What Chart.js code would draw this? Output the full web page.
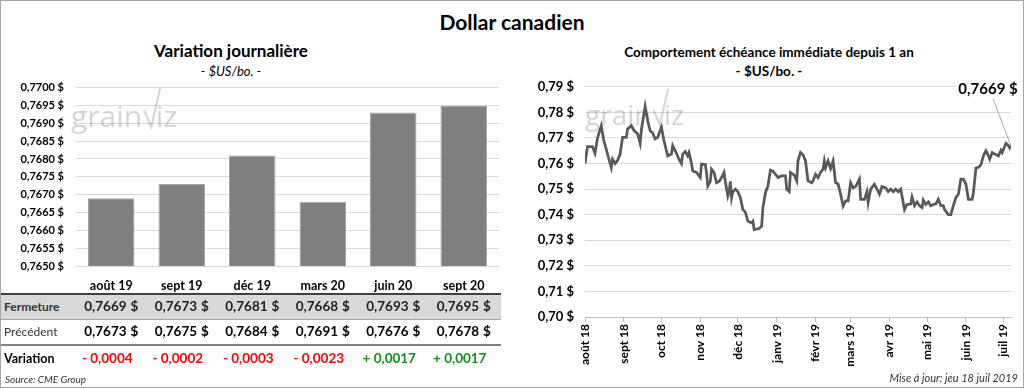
<!DOCTYPE html>
<html>
<head>
<meta charset="utf-8">
<script src="https://cdn.jsdelivr.net/npm/chart.js@4/dist/chart.umd.min.js"></script>
<style>
  body { margin: 0; background: #fff; font-family: Lato, "Open Sans", sans-serif; }
  #page { position: relative; width: 1022px; height: 386px; border: 1px solid #a6a6a6; overflow: hidden; }
  .t { position: absolute; white-space: nowrap; color: #000; }
  #left { position: absolute; left: 0; top: 68px; width: 512px; height: 232px; }
  #right { position: absolute; left: 512px; top: 67px; width: 512px; height: 313px; }
</style>
</head>
<body>
<div id="page">
  <div class="t" style="left:0;width:1022px;top:8px;text-align:center;font-size:21px;font-weight:bold;">Dollar canadien</div>
  <div class="t" style="left:0;width:460px;top:39px;text-align:center;font-size:17px;font-weight:bold;">Variation journalière</div>
  <div class="t" style="left:0;width:460px;top:62px;text-align:center;font-size:13px;font-style:italic;">- $US/bo. -</div>
  <div class="t" style="left:512px;width:512px;top:43px;text-align:center;font-size:13.5px;font-weight:bold;">Comportement échéance immédiate depuis 1 an</div>
  <div class="t" style="left:512px;width:512px;top:62px;text-align:center;font-size:13.5px;font-weight:bold;">- $US/bo. -</div>
  <div id="left"><canvas id="barChart"></canvas></div>
  <div id="right"><canvas id="lineChart"></canvas></div>
  <div id="table"></div>
  <div class="t" style="left:4px;top:372px;font-size:10px;font-style:italic;color:#333;">Source: CME Group</div>
  <div class="t" style="right:5px;top:370px;font-size:11px;font-style:italic;color:#333;">Mise à jour: jeu 18 juil 2019</div>
</div>
<script>
// tableau de gauche
const categories = ['août 19', 'sept 19', 'déc 19', 'mars 20', 'juin 20', 'sept 20'];
const fermeture = [0.7669, 0.7673, 0.7681, 0.7668, 0.7693, 0.7695];
const precedent = [0.7673, 0.7675, 0.7684, 0.7691, 0.7676, 0.7678];
const variation = [-0.0004, -0.0002, -0.0003, -0.0023, 0.0017, 0.0017];

// graphique de droite (jours depuis le 1er août 2018)
const lineDays = [0, 2, 6, 8, 10, 13, 15, 18, 21, 22, 24, 26, 28, 30, 33, 34, 37, 39, 42, 44, 45, 48, 50, 52, 54, 56, 58, 61, 63, 66, 69, 70, 73, 75, 77, 78, 80, 82, 83, 85, 86, 89, 92, 93, 96, 97, 98, 100, 101, 103, 105, 107, 109, 111, 112, 114, 115, 116, 117, 118, 120, 122, 124, 126, 128, 130, 133, 134, 135, 139, 141, 142, 144, 146, 148, 150, 153, 154, 157, 160, 161, 163, 164, 167, 169, 170, 172, 174, 176, 178, 181, 182, 184, 186, 188, 190, 191, 192, 194, 196, 198, 200, 202, 204, 206, 208, 210, 212, 214, 216, 219, 220, 223, 225, 226, 228, 231, 233, 235, 237, 240, 242, 244, 246, 248, 250, 252, 255, 257, 260, 261, 263, 265, 267, 269, 270, 272, 274, 276, 278, 280, 282, 284, 286, 287, 290, 292, 294, 296, 298, 300, 302, 304, 306, 309, 310, 312, 314, 316, 318, 320, 322, 323, 325, 327, 330, 332, 333, 336, 338, 339, 340];
const lineValues = [0.7600, 0.7666, 0.7666, 0.7640, 0.7700, 0.7748, 0.7690, 0.7637, 0.7584, 0.7617, 0.7600, 0.7612, 0.7637, 0.7702, 0.7702, 0.7735, 0.7748, 0.7730, 0.7716, 0.7679, 0.7732, 0.7823, 0.7768, 0.7728, 0.7720, 0.7696, 0.7702, 0.7742, 0.7690, 0.7630, 0.7637, 0.7670, 0.7640, 0.7617, 0.7600, 0.7637, 0.7647, 0.7630, 0.7643, 0.7600, 0.7571, 0.7565, 0.7545, 0.7598, 0.7596, 0.7565, 0.7512, 0.7530, 0.7578, 0.7565, 0.7525, 0.7530, 0.7545, 0.7565, 0.7530, 0.7473, 0.7490, 0.7530, 0.7467, 0.7490, 0.7500, 0.7490, 0.7467, 0.7420, 0.7410, 0.7374, 0.7368, 0.7374, 0.7342, 0.7346, 0.7355, 0.7427, 0.7486, 0.7512, 0.7574, 0.7570, 0.7552, 0.7545, 0.7552, 0.7552, 0.7499, 0.7490, 0.7565, 0.7555, 0.7532, 0.7611, 0.7643, 0.7634, 0.7610, 0.7532, 0.7525, 0.7532, 0.7558, 0.7545, 0.7565, 0.7578, 0.7610, 0.7584, 0.7610, 0.7580, 0.7610, 0.7525, 0.7520, 0.7480, 0.7434, 0.7454, 0.7454, 0.7525, 0.7505, 0.7510, 0.7539, 0.7460, 0.7460, 0.7490, 0.7447, 0.7500, 0.7519, 0.7500, 0.7480, 0.7510, 0.7505, 0.7490, 0.7500, 0.7490, 0.7500, 0.7490, 0.7500, 0.7420, 0.7440, 0.7442, 0.7469, 0.7435, 0.7450, 0.7435, 0.7428, 0.7457, 0.7440, 0.7450, 0.7435, 0.7440, 0.7442, 0.7460, 0.7435, 0.7435, 0.7420, 0.7400, 0.7400, 0.7435, 0.7467, 0.7480, 0.7539, 0.7539, 0.7520, 0.7460, 0.7460, 0.7486, 0.7582, 0.7585, 0.7595, 0.7630, 0.7650, 0.7630, 0.7617, 0.7643, 0.7637, 0.7630, 0.7652, 0.7643, 0.7679, 0.7670, 0.7661, 0.7669];
const monthDays = [0, 31, 61, 92, 122, 153, 184, 212, 243, 273, 304, 334];
const monthLabels = ['août 18', 'sept 18', 'oct 18', 'nov 18', 'déc 18', 'janv 19', 'févr 19', 'mars 19', 'avr 19', 'mai 19', 'juin 19', 'juil 19'];

Chart.defaults.font.family = 'Lato';
Chart.defaults.color = '#000';

const fmt = (v, d) => v.toFixed(d).replace('.', ',');

// petit logo en filigrane
function logoPlugin(x, y, size) {
    return {
        id: 'logo',
        beforeDatasetsDraw(chart) {
            const c = chart.ctx;
            c.save();
            c.fillStyle = 'rgba(0,0,0,0.17)';
            c.strokeStyle = 'rgba(0,0,0,0.17)';
            c.font = size + 'px "Open Sans"';
            c.textBaseline = 'alphabetic';
            c.fillText('grain', x, y);
            const w = c.measureText('grain').width;
            c.lineWidth = 2;
            c.beginPath();
            c.moveTo(x + w + 2, y - size * 0.55);
            c.lineTo(x + w + size * 0.3, y);
            c.lineTo(x + w + size * 0.6, y - size * 1.3);
            c.stroke();
            c.fillText('iz', x + w + size * 0.45, y);
            c.restore();
        }
    };
}

const barChart = new Chart(document.getElementById('barChart'), {
    type: 'bar',
    data: {
        labels: categories,
        datasets: [{
            data: fermeture,
            backgroundColor: '#808080',
            borderColor: '#a6a6a6',
            borderWidth: 1,
            barPercentage: 0.66,
            categoryPercentage: 1
        }]
    },
    options: {
        responsive: true,
        maintainAspectRatio: false,
        animation: false,
        layout: { padding: { top: 0, right: 14, left: 0, bottom: 0 } },
        plugins: { legend: { display: false }, tooltip: { enabled: false } },
        scales: {
            x: {
                grid: { display: false, drawTicks: false },
                border: { display: false },
                ticks: { font: { size: 12.5, weight: 'bold' }, padding: 12 },
                afterFit(s) { s.height = 35; }
            },
            y: {
                min: 0.765,
                max: 0.770,
                grid: { color: '#d9d9d9', drawTicks: false },
                border: { display: false },
                ticks: {
                    stepSize: 0.0005,
                    padding: 12,
                    font: { size: 11, weight: 'bold' },
                    callback: v => fmt(v, 4) + ' $'
                },
                afterFit(s) { s.width = 75; }
            }
        }
    },
    plugins: [logoPlugin(70, 58, 30)]
});

// tableau sous le graphique
(function buildTable() {
    const t = document.getElementById('table');
    const xs = categories.map((c, i) => barChart.scales.x.getPixelForValue(i));
    let html = '';
    html += '<div style="position:absolute;left:0;top:294px;width:500px;height:24px;background:#d9d9d9;"></div>';
    html += '<div style="position:absolute;left:0;top:292px;width:500px;height:2px;background:#404040;"></div>';
    html += '<div style="position:absolute;left:0;top:318px;width:500px;height:1px;background:#a6a6a6;"></div>';
    html += '<div style="position:absolute;left:0;top:343px;width:500px;height:2px;background:#808080;"></div>';
    html += '<div class="t" style="left:3px;top:298px;font-size:12px;font-weight:bold;color:#333;">Fermeture</div>';
    html += '<div class="t" style="left:3px;top:323px;font-size:12px;color:#333;">Précédent</div>';
    html += '<div class="t" style="left:3px;top:350px;font-size:12.5px;font-weight:bold;">Variation</div>';
    const rows = [
        { vals: fermeture, top: 297, color: '#222' },
        { vals: precedent, top: 322, color: '#000' }
    ];
    rows.forEach(r => {
        r.vals.forEach((v, i) => {
            html += '<div class="t" style="left:' + (xs[i] - 27) + 'px;top:' + r.top + 'px;width:54px;font-size:13.5px;font-weight:bold;color:' + r.color + ';">' +
                fmt(v, 4) + '<span style="float:right">$</span></div>';
        });
    });
    variation.forEach((v, i) => {
        const txt = (v < 0 ? '- ' : '+ ') + fmt(Math.abs(v), 4);
        html += '<div class="t" style="left:' + (xs[i] - 40) + 'px;top:349px;width:72px;text-align:center;font-size:13.5px;font-weight:bold;color:' +
            (v < 0 ? '#ff0000' : '#10901a') + ';">' + txt + '</div>';
    });
    t.innerHTML = html;
})();

// etiquette de la derniere valeur
const lastLabel = {
    id: 'lastLabel',
    afterDraw(chart) {
        const pts = chart.getDatasetMeta(0).data;
        const p = pts[pts.length - 1];
        const c = chart.ctx;
        c.save();
        c.strokeStyle = '#a6a6a6';
        c.lineWidth = 1;
        c.beginPath();
        c.moveTo(p.x - 18, p.y - 47);
        c.lineTo(p.x, p.y);
        c.stroke();
        c.font = 'bold 15px Lato';
        c.textAlign = 'center';
        c.textBaseline = 'middle';
        const txt = fmt(lineValues[lineValues.length - 1], 4) + ' $';
        const w = c.measureText(txt).width;
        c.fillStyle = '#fff';
        c.fillRect(p.x - 23 - w / 2 - 3, p.y - 66, w + 6, 18);
        c.fillStyle = '#000';
        c.fillText(txt, p.x - 23, p.y - 57);
        c.restore();
    }
};

new Chart(document.getElementById('lineChart'), {
    type: 'line',
    data: {
        datasets: [{
            data: lineDays.map((d, i) => ({ x: d, y: lineValues[i] })),
            borderColor: '#595959',
            borderWidth: 2.75,
            pointRadius: 0,
            tension: 0,
            fill: false
        }]
    },
    options: {
        responsive: true,
        maintainAspectRatio: false,
        animation: false,
        layout: { padding: { top: 0, right: 14, left: 0, bottom: 0 } },
        plugins: { legend: { display: false }, tooltip: { enabled: false } },
        scales: {
            x: {
                type: 'linear',
                min: 0,
                max: 340,
                afterBuildTicks(s) { s.ticks = monthDays.map(v => ({ value: v })); },
                grid: { drawOnChartArea: false, color: '#bfbfbf', tickLength: 5 },
                border: { color: '#bfbfbf' },
                ticks: {
                    autoSkip: false,
                    minRotation: 90,
                    maxRotation: 90,
                    padding: 2,
                    font: { size: 12, weight: 'bold' },
                    callback: v => monthLabels[monthDays.indexOf(v)]
                },
                afterFit(s) { s.height = 64; }
            },
            y: {
                min: 0.70,
                max: 0.79,
                grid: { color: '#d9d9d9', drawTicks: false },
                border: { display: false },
                ticks: {
                    stepSize: 0.01,
                    padding: 11,
                    font: { size: 13, weight: 'bold' },
                    callback: v => fmt(v, 2) + ' $'
                },
                afterFit(s) { s.width = 72; }
            }
        }
    },
    plugins: [logoPlugin(72, 57, 28), lastLabel]
});
</script>
</body>
</html>
